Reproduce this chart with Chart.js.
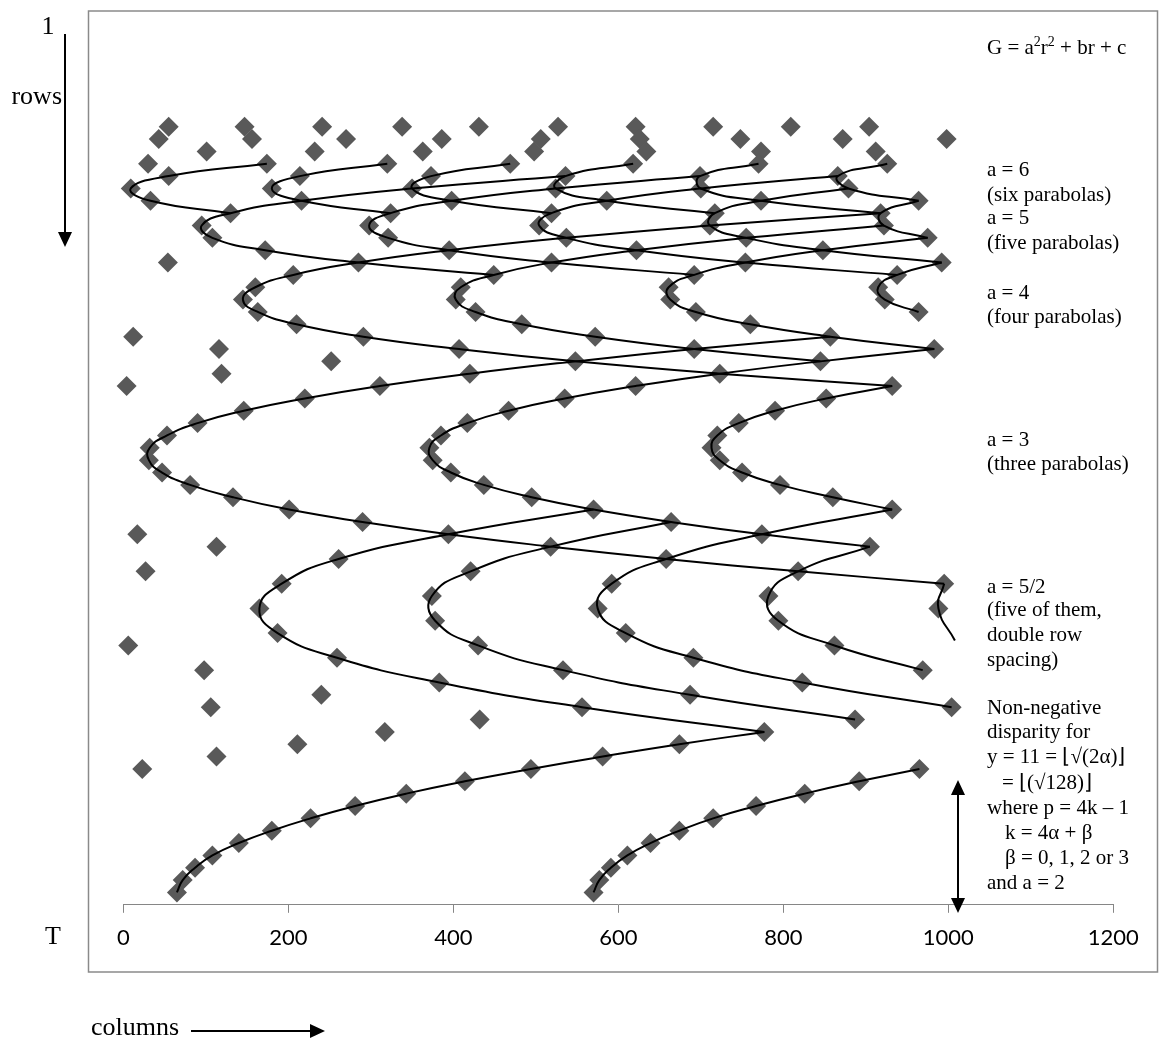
<!DOCTYPE html>
<html>
<head>
<meta charset="utf-8">
<script src="https://cdn.jsdelivr.net/npm/chart.js@4.4.1/dist/chart.umd.min.js"></script>
<style>
  html, body { margin: 0; padding: 0; background: #ffffff; }
  #wrap { position: relative; width: 1159px; height: 1039px; }
  canvas { display: block; }
</style>
</head>
<body>
<div id="wrap"><canvas id="c" width="1159" height="1039"></canvas></div>
<script>
// ---------------- DATA (columns on x, rows on y; row 1 at the top) ----------------
const xTicks = [0, 200, 400, 600, 800, 1000, 1200];

// all plotted points, row by row
const diamondRows = [9,10,11,12,13,14,15,16,17,18,19,20,21,22,23,24,25,26,27,28,29,30,31,32,33,34,35,36,37,38,39,40,
  41,42,43,44,45,46,47,48,49,50,51,52,53,54,55,56,57,58,59,60,61,62,63,64,65,66,67,68,69,70,71];
const diamondCols = [
  [55,147,241,338,431,527,621,715,809,904],
  [43,156,270,386,506,626,748,872,998],
  [101,232,363,498,634,773,912],
  [30,174,320,469,618,770,926],
  [55,214,373,536,699,866],
  [9,180,350,524,700,879],
  [33,216,398,586,773,964],
  [130,324,519,717,918],
  [95,298,504,711,922],
  [108,321,537,755,975],
  [172,395,622,848],
  [54,285,519,754,992],
  [206,449,692,938],
  [160,409,661,915],
  [145,403,663,923],
  [163,427,694,964],
  [210,483,760],
  [12,291,572,857],
  [116,407,692,983],
  [252,548,845],
  [119,420,723],
  [4,311,621,932],
  [220,535,852],
  [146,467,790],
  [90,417,746],
  [53,385,720],
  [32,371,713],
  [31,375,723],
  [47,397,750],
  [81,437,796],
  [133,495,860],
  [201,570,932],
  [290,664],
  [17,394,774],
  [113,518,905],
  [261,658],
  [27,421,818],
  [192,592,995],
  [374,782],
  [165,575,988],
  [378,794],
  [187,609],
  [6,430,862],
  [259,691],
  [98,533,969],
  [383,823],
  [240,687],
  [106,556,1004],
  [432,887],
  [317,777],
  [211,674],
  [113,581],
  [23,494,965],
  [414,892],
  [343,826],
  [281,767],
  [227,715],
  [180,674],
  [140,639],
  [108,611],
  [87,591],
  [72,577],
  [65,570]
];

// a = 6 : six parabolas
const a6Rows = [
  [12,13,14,15,16],[12,13,14,15,16],[12,13,14,15,16],[12,13,14,15,16],[12,13,14,15,16],[12,13,14,15]
];
const a6Cols = [
  [174,55,9,33,130],
  [320,214,180,216,324],
  [469,373,350,398,519],
  [618,536,524,586,717],
  [770,699,700,773,918],
  [926,866,879,964]
];

// a = 5 : five parabolas
const a5Rows = [
  [13,14,15,16,17,18,19,20,21],
  [13,14,15,16,17,18,19,20,21],
  [13,14,15,16,17,18,19,20,21],
  [14,15,16,17,18,19,20],
  [15,16,17,18]
];
const a5Cols = [
  [536,350,216,130,95,108,172,285,449],
  [699,524,398,324,298,321,395,519,692],
  [866,700,586,519,504,537,622,754,938],
  [879,773,717,711,755,848,992],
  [964,918,922,975]
];

// a = 4 : four parabolas
const a4Rows = [
  [16,17,18,19,20,21,22,23,24,25,26,27,28,29,30],
  [17,18,19,20,21,22,23,24,25,26,27,28],
  [18,19,20,21,22,23,24,25,26,27],
  [20,21,22,23,24]
];
const a4Cols = [
  [918,711,537,395,285,206,160,145,163,210,291,407,548,723,932],
  [922,755,622,519,449,409,403,427,483,572,692,845],
  [975,848,754,692,661,663,694,760,857,983],
  [992,938,915,923,964]
];

// a = 3 : three parabolas
const a3Rows = [
  [26,27,28,29,30,31,32,33,34,35,36,37,38,39,40,41,42,43,44,45,46],
  [27,28,29,30,31,32,33,34,35,36,37,38,39,40,41,42,43],
  [30,31,32,33,34,35,36,37,38,39,40]
];
const a3Cols = [
  [857,692,548,420,311,220,146,90,53,32,31,47,81,133,201,290,394,518,658,818,995],
  [983,845,723,621,535,467,417,385,371,375,397,437,495,570,664,774,905],
  [932,852,790,746,720,713,723,750,796,860,932]
];

// a = 5/2 : five parabolas, double row spacing
const a52Rows = [
  [40,42,44,46,48,50,52,54,56,58],
  [40,42,44,46,48,50,52,54,56],
  [41,43,45,47,49,51,53,55,57],
  [43,45,47,49,51,53],
  [46,48,50.6]
];
const a52Cols = [
  [570,394,261,192,165,187,259,383,556,777],
  [932,774,658,592,575,609,691,823,1004],
  [664,518,421,374,378,430,533,687,887],
  [905,818,782,794,862,969],
  [995,988,1008]
];

// a = 2 : non-negative disparity
const a2Rows = [
  [71,70,69,68,67,66,65,64,63,62,61,60,59,58],
  [71,70,69,68,67,66,65,64,63,62,61]
];
const a2Cols = [
  [65,72,87,108,140,180,227,281,343,414,494,581,674,777],
  [570,577,591,611,639,674,715,767,826,892,965]
];

const noteLines = [
  ["a = 6", 987, 170],
  ["(six parabolas)", 987, 195],
  ["a = 5", 987, 218],
  ["(five parabolas)", 987, 243],
  ["a = 4", 987, 293],
  ["(four parabolas)", 987, 317],
  ["a = 3", 987, 440],
  ["(three parabolas)", 987, 464],
  ["a = 5/2", 987, 587],
  ["(five of them,", 987, 610],
  ["double row", 987, 635],
  ["spacing)", 987, 660],
  ["Non-negative", 987, 708],
  ["disparity for", 987, 732],
  ["y = 11 = \u230A\u221A(2\u03B1)\u230B", 987, 757],
  ["= \u230A(\u221A128)\u230B", 1002, 783],
  ["where p = 4k \u2013 1", 987, 808],
  ["k = 4\u03B1 + \u03B2", 1005, 833],
  ["\u03B2 = 0, 1, 2 or 3", 1005, 858],
  ["and a = 2", 987, 883]
];
// formula title: [text, superscript?]
const formulaParts = [["G = a", false], ["2", true], ["r", false], ["2", true], [" + br + c", false]];

// ---------------- BUILD DATASETS ----------------
const diamondPts = [];
diamondRows.forEach((r, i) => diamondCols[i].forEach(c => diamondPts.push({ x: c, y: r })));

const curveSets = [];
function addCurves(rowsList, colsList) {
  colsList.forEach((cols, i) => {
    curveSets.push({
      data: cols.map((c, j) => ({ x: c, y: rowsList[i][j] })),
      showLine: true,
      borderColor: '#000000',
      borderWidth: 2,
      pointRadius: 0,
      pointHoverRadius: 0,
      tension: 0.5,
      fill: false,
      clip: false,
      order: 0
    });
  });
}
addCurves(a6Rows, a6Cols);
addCurves(a5Rows, a5Cols);
addCurves(a4Rows, a4Cols);
addCurves(a3Rows, a3Cols);
addCurves(a52Rows, a52Cols);
addCurves(a2Rows, a2Cols);

const datasets = curveSets.concat([{
  data: diamondPts,
  showLine: false,
  pointStyle: 'rectRot',
  pointRadius: 10,
  pointHoverRadius: 10,
  backgroundColor: '#595959',
  borderColor: '#595959',
  borderWidth: 0,
  clip: false,
  order: 1
}]);

// ---------------- DECORATION PLUGIN ----------------
function arrowHead(ctx, x, y, dir) {
  ctx.beginPath();
  if (dir === 'down') { ctx.moveTo(x, y); ctx.lineTo(x - 7, y - 15); ctx.lineTo(x + 7, y - 15); }
  if (dir === 'up')   { ctx.moveTo(x, y); ctx.lineTo(x - 7, y + 15); ctx.lineTo(x + 7, y + 15); }
  if (dir === 'right'){ ctx.moveTo(x, y); ctx.lineTo(x - 15, y - 7); ctx.lineTo(x - 15, y + 7); }
  ctx.closePath();
  ctx.fill();
}

const SERIF = '"Liberation Serif", "Times New Roman", serif';
const deco = {
  id: 'deco',
  beforeDraw(chart) {
    const ctx = chart.ctx;
    ctx.save();
    ctx.fillStyle = '#ffffff';
    ctx.fillRect(0, 0, chart.width, chart.height);
    ctx.strokeStyle = '#8a8a8a';
    ctx.lineWidth = 1.5;
    ctx.strokeRect(88.5, 11, 1069, 961);
    ctx.restore();
  },
  afterDraw(chart) {
    const ctx = chart.ctx;
    ctx.save();
    ctx.fillStyle = '#000';
    ctx.strokeStyle = '#000';
    ctx.textAlign = 'left';

    // formula with superscripts
    ctx.textBaseline = 'alphabetic';
    let fx = 987;
    formulaParts.forEach(([t, sup]) => {
      ctx.font = (sup ? '14px ' : '21px ') + SERIF;
      ctx.fillText(t, fx, sup ? 46 : 54);
      fx += ctx.measureText(t).width;
    });

    ctx.textBaseline = 'middle';
    ctx.font = '21px ' + SERIF;
    noteLines.forEach(([t, x, y]) => ctx.fillText(t, x, y));

    ctx.font = '26px ' + SERIF;
    ctx.textAlign = 'center';
    ctx.fillText('1', 48, 27);
    ctx.fillText('T', 53, 937);
    ctx.textAlign = 'right';
    ctx.fillText('rows', 62, 97);
    ctx.textAlign = 'left';
    ctx.fillText('columns', 91, 1028);

    ctx.lineWidth = 2;
    ctx.beginPath(); ctx.moveTo(65, 34); ctx.lineTo(65, 234); ctx.stroke();
    arrowHead(ctx, 65, 247, 'down');
    ctx.beginPath(); ctx.moveTo(191, 1031); ctx.lineTo(312, 1031); ctx.stroke();
    arrowHead(ctx, 325, 1031, 'right');
    ctx.beginPath(); ctx.moveTo(958, 792); ctx.lineTo(958, 901); ctx.stroke();
    arrowHead(ctx, 958, 780, 'up');
    arrowHead(ctx, 958, 913, 'down');
    ctx.restore();
  }
};

// ---------------- CHART ----------------
new Chart(document.getElementById('c').getContext('2d'), {
  type: 'scatter',
  data: { datasets },
  options: {
    responsive: false,
    animation: false,
    devicePixelRatio: 1,
    layout: { padding: { left: 123.3, right: 45.7, top: 27.9, bottom: 74.2 } },
    plugins: { legend: { display: false }, tooltip: { enabled: false } },
    scales: {
      x: {
        type: 'linear',
        position: 'bottom',
        min: 0,
        max: 1200,
        afterBuildTicks: s => { s.ticks = xTicks.map(v => ({ value: v })); },
        afterFit: s => { s.height = 60; },
        grid: { display: true, drawOnChartArea: false, drawTicks: true, tickLength: 8, color: '#868686', lineWidth: 1 },
        border: { display: true, color: '#868686', width: 1 },
        ticks: {
          font: { family: 'Lato', size: 22 }, color: '#000000', padding: 12, maxRotation: 0, autoSkip: false,
          callback: v => String(v)
        }
      },
      y: { type: 'linear', min: 1, max: 72, reverse: true, display: false }
    }
  },
  plugins: [deco]
});
</script>
</body>
</html>
